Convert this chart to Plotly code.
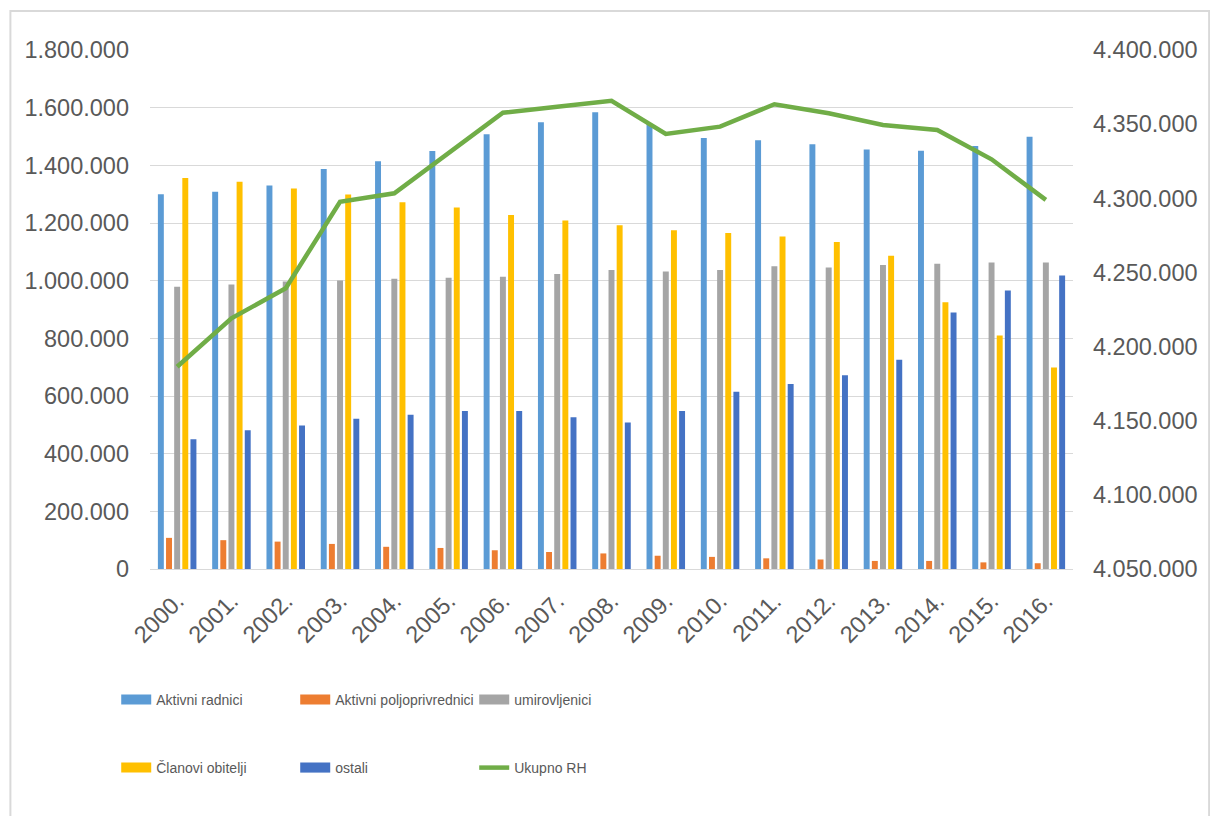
import plotly.graph_objects as go

# Godine (kategorije na osi x)
years = ["2000.", "2001.", "2002.", "2003.", "2004.", "2005.", "2006.", "2007.", "2008.",
         "2009.", "2010.", "2011.", "2012.", "2013.", "2014.", "2015.", "2016."]

aktivni_radnici = [1300000, 1308000, 1330000, 1387000, 1414000, 1450000, 1508000, 1549000, 1584000,
                   1543000, 1495000, 1487000, 1473000, 1455000, 1451000, 1467000, 1499000]
aktivni_poljoprivrednici = [108000, 100000, 95000, 87000, 77000, 73000, 65000, 59000, 54000,
                            46000, 42000, 37000, 33000, 28000, 28000, 23000, 20000]
umirovljenici = [979000, 987000, 997000, 1001000, 1007000, 1010000, 1014000, 1023000, 1037000,
                 1032000, 1037000, 1050000, 1046000, 1054000, 1059000, 1063000, 1063000]
clanovi_obitelji = [1356000, 1343000, 1320000, 1299000, 1272000, 1254000, 1228000, 1209000, 1192000,
                    1175000, 1165000, 1153000, 1134000, 1086000, 925000, 810000, 699000]
ostali = [450000, 481000, 498000, 521000, 535000, 548000, 548000, 526000, 508000,
          548000, 615000, 642000, 672000, 726000, 890000, 966000, 1018000]
ukupno_rh = [4186400, 4219000, 4239300, 4297700, 4303400, 4330600, 4357700, 4361800, 4365800,
             4343400, 4348300, 4363400, 4357300, 4349400, 4346100, 4326300, 4298900]

left_ticks = [0, 200000, 400000, 600000, 800000, 1000000, 1200000, 1400000, 1600000, 1800000]
right_ticks = [4050000, 4100000, 4150000, 4200000, 4250000, 4300000, 4350000, 4400000]

bar_series = [
    ("Aktivni radnici", aktivni_radnici, "#5b9bd5", "legend"),
    ("Aktivni poljoprivrednici", aktivni_poljoprivrednici, "#ed7d31", "legend"),
    ("umirovljenici", umirovljenici, "#a5a5a5", "legend"),
    ("Članovi obitelji", clanovi_obitelji, "#ffc000", "legend2"),
    ("ostali", ostali, "#4472c4", "legend2"),
]

TEXT = "#595959"
GRID = "#d9d9d9"
FONT = "Liberation Sans, Arial, sans-serif"

# plot area in pixels
W, H = 1210, 816
L, R, T, B = 150, 131, 50, 247
PW, PH = W - L - R, H - T - B


def px_x(p):
    return (p - L) / PW


def px_y(p):
    return (H - B - p) / PH


fig = go.Figure()

for name, vals, color, _ in bar_series:
    fig.add_trace(go.Bar(
        x=years, y=vals, name=name, marker=dict(color=color, line=dict(width=0)),
        showlegend=False, legendgroup=name,
    ))

# legend swatches drawn as wide short strokes
for name, vals, color, lg in bar_series:
    fig.add_trace(go.Scatter(
        x=[None], y=[None], mode="lines", name=name, legendgroup=name,
        line=dict(color=color, width=10), legend=lg, hoverinfo="skip",
    ))

fig.add_trace(go.Scatter(
    x=years, y=ukupno_rh, name="Ukupno RH", mode="lines", yaxis="y2",
    line=dict(color="#70ad47", width=4.5), legend="legend2",
))

legend_common = dict(
    orientation="h", xanchor="left", yanchor="middle",
    font=dict(family=FONT, size=14, color=TEXT),
    entrywidth=134, entrywidthmode="pixels",
    bgcolor="rgba(0,0,0,0)", traceorder="normal",
)

TICK = dict(size=23.5, color=TEXT)

fig.update_layout(
    width=W, height=H,
    margin=dict(l=L, r=R, t=T, b=B),
    paper_bgcolor="white", plot_bgcolor="white",
    separators=",.",
    barmode="group", bargap=0.25, bargroupgap=0.27,
    font=dict(family=FONT, color=TEXT),
    xaxis=dict(
        type="category", tickangle=-45, showgrid=False,
        showline=True, linecolor=GRID, linewidth=1,
        ticks="", tickfont=TICK, ticklabelstandoff=8,
    ),
    yaxis=dict(
        range=[0, 1800000], tickvals=left_ticks, tickformat=",d",
        showgrid=True, gridcolor=GRID, gridwidth=1, zeroline=False,
        ticks="", tickfont=TICK, ticklabelstandoff=20,
    ),
    yaxis2=dict(
        range=[4050000, 4400000], tickvals=right_ticks, tickformat=",d",
        overlaying="y", side="right", showgrid=False, zeroline=False,
        ticks="", tickfont=TICK, ticklabelstandoff=19,
    ),
    legend=dict(x=px_x(116), y=px_y(700), **legend_common),
    legend2=dict(x=px_x(116), y=px_y(768), **legend_common),
    shapes=[dict(
        type="rect", xref="paper", yref="paper",
        x0=px_x(9.5), x1=px_x(1216), y0=px_y(11), y1=px_y(830),
        line=dict(color=GRID, width=2), fillcolor="rgba(0,0,0,0)", layer="below",
    )],
)

fig.write_html("out.html")
